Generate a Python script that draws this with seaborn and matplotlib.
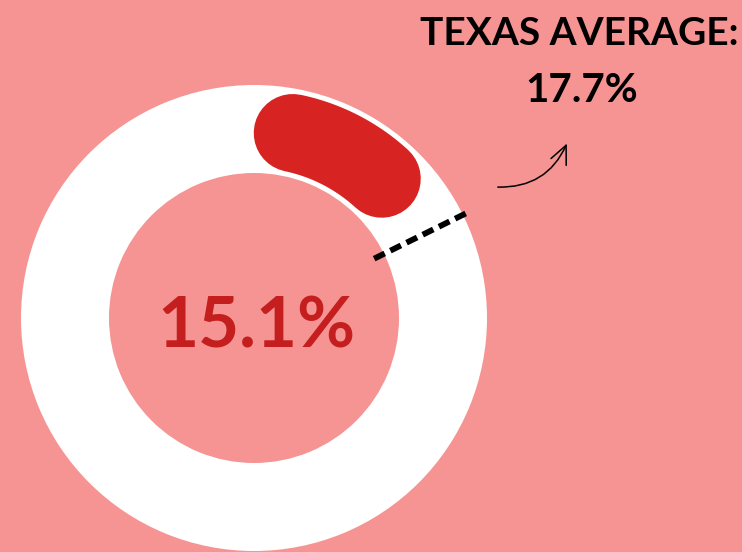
import numpy as np
import pandas as pd
import matplotlib
matplotlib.use('Agg')
import matplotlib.pyplot as plt
import seaborn as sns

# values
county_rate = 15.1   # %
texas_rate = 17.7    # %
center_label = "15.1%"
avg_title = "TEXAS AVERAGE:"
avg_label = "17.7%"

bg = '#F69393'
ring_col = '#FFFFFF'
arc_col = '#D72321'
txt_red = '#C41E1E'

sns.set_theme(style='white', rc={'figure.facecolor': bg, 'axes.facecolor': bg,
                                 'lines.scale_dashes': False})
plt.rcParams['font.family'] = ['Lato', 'DejaVu Sans']

fig = plt.figure(figsize=(7.42, 5.52), dpi=100)
ax = fig.add_axes([0, 0, 1, 1])

# ring geometry in pixel units
cx, cy = 254, 318
r_out, r_in = 233, 145
r_mid = (r_out + r_in) / 2

# white ring
ax.pie([100], colors=[ring_col], radius=r_out, center=(cx, cy),
       wedgeprops=dict(width=r_out - r_in, linewidth=0), startangle=90)

# red rounded arc, total extent (caps included) = county share of the circle
arc_px = 78
cap = np.degrees((arc_px / 2) / r_mid)
a0, a1 = cap, county_rate / 100 * 360 - cap
th = np.radians(np.linspace(a0, a1, 60))
arc = pd.DataFrame({'x': cx + r_mid * np.sin(th), 'y': cy - r_mid * np.cos(th)})
sns.lineplot(data=arc, x='x', y='y', sort=False, ax=ax, color=arc_col,
             linewidth=arc_px / 1.389, solid_capstyle='round')

# dashed marker for state average
ta = np.radians(texas_rate / 100 * 360)
mark = pd.DataFrame({'r': [r_in - 11, r_out + 6]})
mark['x'] = cx + mark['r'] * np.sin(ta)
mark['y'] = cy - mark['r'] * np.cos(ta)
sns.lineplot(data=mark, x='x', y='y', sort=False, ax=ax, color='black',
             linewidth=4.2, dashes=False)
ax.lines[-1].set_dashes((8.5, 4.5))

# texts
ax.text(cx + 2, 348, center_label, ha='center', va='baseline',
        fontsize=51, fontweight='bold', color=txt_red)
ax.text(579, 45, avg_title, ha='center', va='baseline',
        fontsize=28, fontweight='bold', color='black')
ax.text(582, 102, avg_label, ha='center', va='baseline',
        fontsize=29, fontweight='bold', color='black')

# hand-drawn style arrow
ax.annotate('', xy=(568, 141), xytext=(495, 187),
            arrowprops=dict(arrowstyle='->,head_length=1.1,head_width=0.5',
                            connectionstyle='arc3,rad=0.35',
                            lw=1.1, color='black'))

ax.set_xlim(0, 742)
ax.set_ylim(552, 0)
ax.set_aspect('equal')
ax.axis('off')

fig.savefig('out.png', dpi=100, facecolor=bg)
